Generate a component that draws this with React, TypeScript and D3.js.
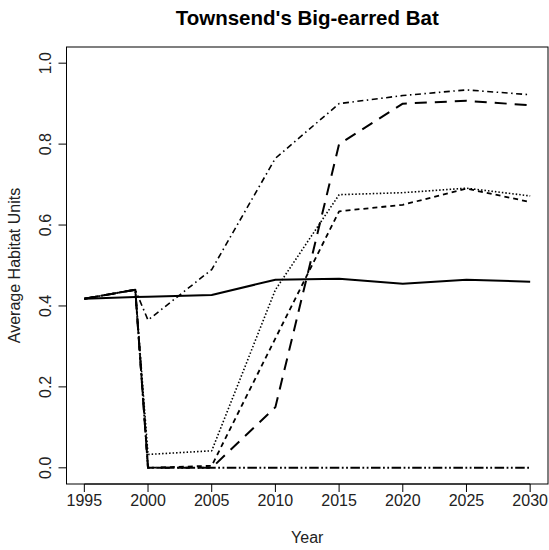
import React from "react";
import * as d3 from "d3";

const years = [1995, 1999, 2000, 2005, 2010, 2015, 2020, 2025, 2030];
const solidSeries = [0.418, 0.422, 0.423, 0.427, 0.465, 0.467, 0.455, 0.465, 0.46];
const dottedSeries = [0.418, 0.44, 0.033, 0.042, 0.44, 0.675, 0.68, 0.691, 0.672];
const dashedSeries = [0.418, 0.44, 0, 0.005, 0.32, 0.634, 0.65, 0.69, 0.657];
const longDashSeries = [0.418, 0.44, 0, 0, 0.15, 0.8, 0.9, 0.907, 0.896];
const dotDashSeries = [0.418, 0.44, 0.365, 0.49, 0.765, 0.9, 0.92, 0.934, 0.922];
const zeroSeries = [0.418, 0.44, 0, 0, 0, 0, 0, 0, 0];

const xTicks = [1995, 2000, 2005, 2010, 2015, 2020, 2025, 2030];
const yTicks = [0, 0.2, 0.4, 0.6, 0.8, 1.0];

const title = "Townsend's Big-earred Bat";
const xLabel = "Year";
const yLabel = "Average Habitat Units";

const W = 549;
const H = 550;
const box = { left: 66.5, right: 548, top: 47, bottom: 484 };

export default function App() {
  const xPad = (2030 - 1995) * 0.04;
  const x = d3
    .scaleLinear()
    .domain([1995 - xPad, 2030 + xPad])
    .range([box.left, box.right]);
  const y = d3
    .scaleLinear()
    .domain([-0.04, 1.04])
    .range([box.bottom, box.top]);

  const line = d3
    .line<number>()
    .x((_, i) => x(years[i]))
    .y((d) => y(d));

  const series = [
    { data: zeroSeries, dash: "9.5,2.5,1.8,2.5,1.8,2.5", w: 2 },
    { data: longDashSeries, dash: "12,8", w: 2 },
    { data: dashedSeries, dash: "5,4", w: 1.8 },
    { data: dottedSeries, dash: "1.5,2", w: 1.6 },
    { data: dotDashSeries, dash: "1.5,3.5,6,3.5", w: 1.6 },
    { data: solidSeries, dash: "none", w: 2 },
  ];

  const font = "Arial, 'Liberation Sans', sans-serif";
  const midX = (box.left + box.right) / 2;
  const midY = (box.top + box.bottom) / 2;
  const fs = 16;

  return (
    <svg
      width={W}
      height={H}
      style={{ position: "absolute", left: 0, top: 0, background: "#fff" }}
      fontFamily={font}
    >
      <rect x={0} y={0} width={W} height={H} fill="#fff" />
      <text
        x={midX}
        y={25}
        textAnchor="middle"
        fontWeight="bold"
        fontSize={20.5}
        fill="#000"
      >
        {title}
      </text>
      {series.map((s, i) => (
        <path
          key={i}
          d={line(s.data) || ""}
          fill="none"
          stroke="#000"
          strokeWidth={s.w}
          strokeDasharray={s.dash}
          strokeLinejoin="round"
        />
      ))}
      <rect
        x={box.left}
        y={box.top}
        width={box.right - box.left}
        height={box.bottom - box.top}
        fill="none"
        stroke="#000"
        strokeWidth={1}
      />
      <line
        x1={x(xTicks[0])}
        x2={x(xTicks[xTicks.length - 1])}
        y1={box.bottom}
        y2={box.bottom}
        stroke="#000"
      />
      {xTicks.map((t) => (
        <g key={t} transform={`translate(${x(t)},${box.bottom})`}>
          <line y1={0} y2={8} stroke="#000" />
          <text y={22} textAnchor="middle" fontSize={fs} fill="#222">
            {t}
          </text>
        </g>
      ))}
      <line
        x1={box.left}
        x2={box.left}
        y1={y(yTicks[0])}
        y2={y(yTicks[yTicks.length - 1])}
        stroke="#000"
      />
      {yTicks.map((t) => (
        <g key={t} transform={`translate(${box.left},${y(t)})`}>
          <line x1={0} x2={-8} stroke="#000" />
          <text
            transform="translate(-16,0) rotate(-90)"
            textAnchor="middle"
            fontSize={fs}
            fill="#222"
          >
            {t.toFixed(1)}
          </text>
        </g>
      ))}
      <text x={midX} y={543} textAnchor="middle" fontSize={fs} fill="#222">
        {xLabel}
      </text>
      <text
        transform={`translate(20,${midY}) rotate(-90)`}
        textAnchor="middle"
        fontSize={fs}
        fill="#222"
      >
        {yLabel}
      </text>
    </svg>
  );
}
